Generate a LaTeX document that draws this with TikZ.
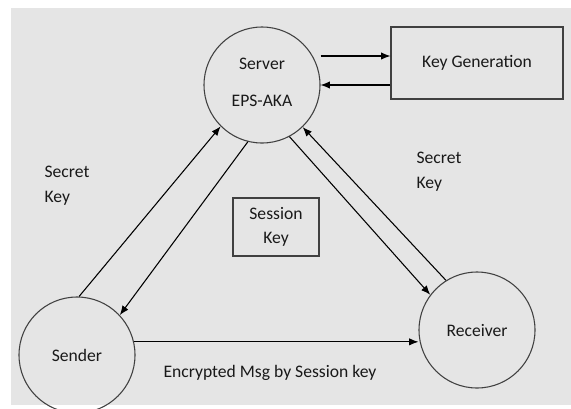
\documentclass[tikz,border=0pt]{standalone}
\usepackage{fontspec}
\setmainfont{Carlito}
\usetikzlibrary{arrows.meta}

\begin{document}
\begin{tikzpicture}[
	x=0.75pt, y=-0.75pt,
	party/.style={circle, draw=black!75, line width=0.8pt, minimum size=87pt, inner sep=0pt, align=center},
	box/.style={rectangle, draw=black!75, line width=0.8pt, align=center},
	note/.style={align=left},
	arrow/.style={line width=0.8pt, -{Latex[length=7pt, width=5.5pt]}},
	font=\fontsize{13.2}{18.5}\selectfont, text=black!90
	]
	
	% Background
	\useasboundingbox (0,0) rectangle (571,408);
	\fill[white] (0,0) rectangle (571,408);
	\fill[black!10] (11,8) rectangle (571,405);
	
	% Nodes
	\node[party] (server) at (262,85) {Server\\[9pt]EPS-AKA\\[-14pt]};
	\node[party] (sender) at (77,355) {Sender};
	\node[party] (receiver) at (477,330) {Receiver};
	\node[box, minimum width=129pt, minimum height=54pt] (keygen) at (477,63) {Key Generation};
	\node[box, minimum width=64.5pt, minimum height=43.5pt] (session) at (276,227) {Session\\Key};
	
	\node[note] (secretl) at (67,186) {Secret\\Key};
	\node[note] (secretr) at (439,172) {Secret\\Key};
	\node (msg) at (270,373) {Encrypted Msg by Session key};
	
	% Arrows
	\draw[arrow] ([yshift=5.25pt]keygen.west -| server.east) -- ([yshift=5.25pt]keygen.west);
	\draw[arrow] ([yshift=-16.5pt]keygen.west) -- ([yshift=-16.5pt]keygen.west -| server.east);
	
	\draw[arrow] (sender.88) -- (server.225);
	\draw[arrow] (server.256) -- (sender.43);
	
	\draw[arrow] (server.298) -- (receiver.143);
	\draw[arrow] (receiver.122) -- (server.314);
	
	\draw[arrow] (sender.13) -- (sender.13 -| receiver.west);
	
\end{tikzpicture}
\end{document}
